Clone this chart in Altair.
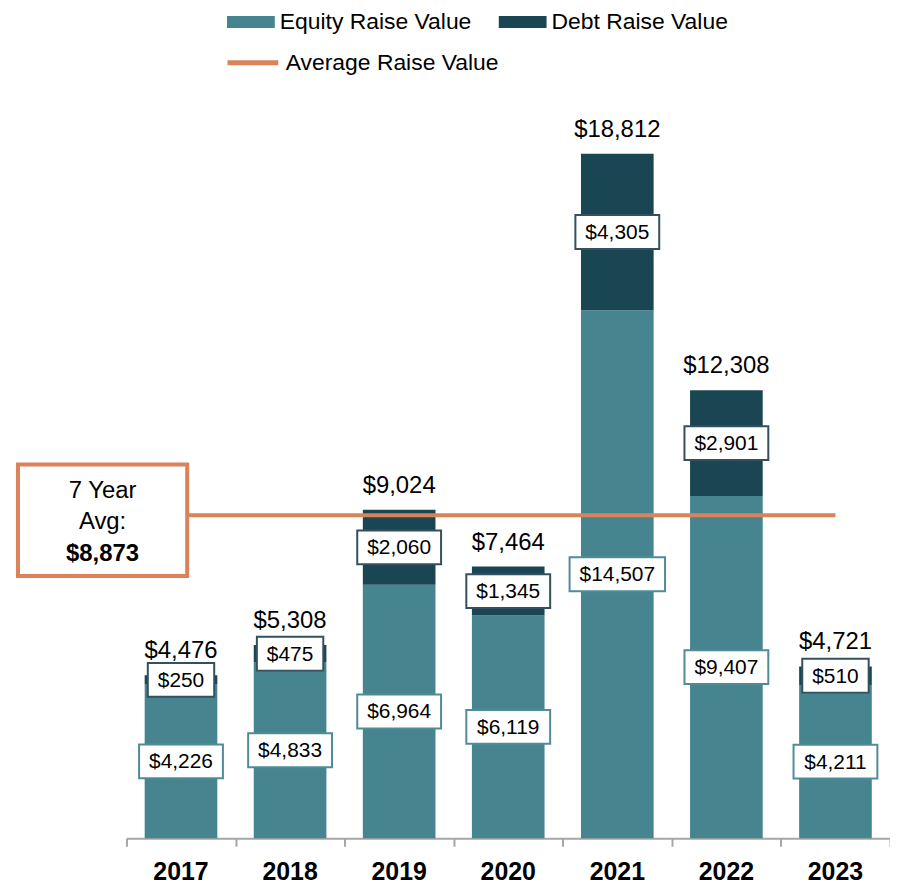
import altair as alt
import pandas as pd

# ---- data ----
years = ["2017", "2018", "2019", "2020", "2021", "2022", "2023"]
equity = [4226, 4833, 6964, 6119, 14507, 9407, 4211]
debt = [250, 475, 2060, 1345, 4305, 2901, 510]
totals = [4476, 5308, 9024, 7464, 18812, 12308, 4721]
avg_value = 8873
avg_lines = ["7 Year", "Avg:"]
series_names = ["Equity Raise Value", "Debt Raise Value"]
avg_name = "Average Raise Value"

# ---- style ----
EQ = "#46848F"
DB = "#1A4654"
OR = "#DA825A"
EQ_BORDER = "#4F8C97"
DB_BORDER = "#34505F"
AXIS = "#A6A6A6"
FONT = "Liberation Sans"
W, H = 767, 740
STEP = W / len(years)
BAR_HALF = 0.333
LABEL_FS = 21
BOX_PAD = 20
BOX_H = 34
YMAX = 20243


def fmt(v):
    return "${:,}".format(v)


def text_w(s, fs):
    return sum(0.278 * fs if c in ",." else 0.556 * fs for c in s)


rows = []
for i, (e, d) in enumerate(zip(equity, debt)):
    rows.append(dict(i=i, series=series_names[0], y0=0, y1=e))
    rows.append(dict(i=i, series=series_names[1], y0=e, y1=e + d))
bars_df = pd.DataFrame(rows)

lab_rows = []
for i, (e, d) in enumerate(zip(equity, debt)):
    for val, mid, border in [(e, e / 2, EQ_BORDER), (d, e + d / 2, DB_BORDER)]:
        t = fmt(val)
        hw = (text_w(t, LABEL_FS) + BOX_PAD) / 2 / STEP
        lab_rows.append(dict(i=i, label=t, mid=mid, xa=i - hw, xb=i + hw, border=border))
lab_df = pd.DataFrame(lab_rows)

tot_df = pd.DataFrame({"i": list(range(len(years))), "total": totals,
                       "label": [fmt(t) for t in totals], "year": years})
avg_df = pd.DataFrame({"v": [avg_value], "name": [avg_name], "label": [fmt(avg_value)]})

xs = alt.Scale(domain=[-0.5, len(years) - 0.5], nice=False, zero=False)
ys = alt.Scale(domain=[0, YMAX], nice=False, zero=True)

bars = alt.Chart(bars_df).transform_calculate(
    x0=f"datum.i - {BAR_HALF}", x1=f"datum.i + {BAR_HALF}"
).mark_bar().encode(
    x=alt.X("x0:Q", scale=xs, title=None,
            axis=alt.Axis(values=[k - 0.5 for k in range(len(years) + 1)], labels=False,
                          grid=False, domainColor=AXIS, domainWidth=2, tickColor=AXIS,
                          tickWidth=2, tickSize=8, title=None)),
    x2="x1:Q",
    y=alt.Y("y0:Q", scale=ys, axis=None),
    y2="y1:Q",
    fill=alt.Fill("series:N", scale=alt.Scale(domain=series_names, range=[EQ, DB]),
                  legend=alt.Legend(orient="none", legendX=101, legendY=-104, columns=2,
                                    symbolType="M-1,-0.25H1V0.25H-1Z", symbolSize=2304,
                                    symbolStrokeWidth=0, labelFont=FONT, labelFontSize=23,
                                    labelColor="black", labelOffset=5, columnPadding=27,
                                    labelLimit=0, padding=0, title=None)),
)

avg_rule = alt.Chart(avg_df).mark_rule(strokeWidth=4).encode(
    x=alt.datum(-0.5),
    x2=alt.datum(len(years) - 1),
    y=alt.Y("v:Q"),
    stroke=alt.Stroke("name:N", scale=alt.Scale(domain=[avg_name], range=[OR]),
                      legend=alt.Legend(orient="none", legendX=99, legendY=-67,
                                        symbolType="stroke", symbolSize=2600,
                                        symbolStrokeWidth=5, labelFont=FONT,
                                        labelFontSize=23, labelColor="black",
                                        labelOffset=5, labelLimit=0, padding=0,
                                        title=None)),
)

lab_box = alt.Chart(lab_df).mark_rect(fill="white", strokeWidth=2,
                                      yOffset=-BOX_H / 2, y2Offset=BOX_H / 2).encode(
    x="xa:Q", x2="xb:Q", y="mid:Q", y2="mid:Q",
    stroke=alt.Stroke("border:N", scale=None),
)
lab_text = alt.Chart(lab_df).mark_text(font=FONT, fontSize=LABEL_FS, color="black",
                                       baseline="middle", dy=1).encode(
    x="i:Q", y="mid:Q", text="label:N"
)

tot_text = alt.Chart(tot_df).mark_text(font=FONT, fontSize=24, color="black",
                                       baseline="alphabetic", dy=-17).encode(
    x="i:Q", y="total:Q", text="label:N"
)
year_text = alt.Chart(tot_df).mark_text(font=FONT, fontSize=25, fontWeight="bold",
                                        color="black", baseline="middle", dy=34).encode(
    x="i:Q", y=alt.datum(0), text="year:N"
)

avg_box = alt.Chart(avg_df).mark_rect(fill="white", stroke=OR, strokeWidth=4,
                                      yOffset=-51, y2Offset=61).encode(
    x=alt.value(-109), x2=alt.value(61), y="v:Q", y2="v:Q"
)
avg_t1 = alt.Chart(avg_df).mark_text(font=FONT, fontSize=24, color="black",
                                     baseline="middle", dy=-24, text=avg_lines[0]).encode(
    x=alt.value(-24), y="v:Q"
)
avg_t2 = alt.Chart(avg_df).mark_text(font=FONT, fontSize=24, color="black",
                                     baseline="middle", dy=7, text=avg_lines[1]).encode(
    x=alt.value(-24), y="v:Q"
)
avg_t3 = alt.Chart(avg_df).mark_text(font=FONT, fontSize=24, fontWeight="bold",
                                     color="black", baseline="middle", dy=39).encode(
    x=alt.value(-24), y="v:Q", text="label:N"
)

chart = alt.layer(
    bars, avg_rule, lab_box, lab_text, tot_text, year_text,
    avg_box, avg_t1, avg_t2, avg_t3
).properties(
    width=W, height=H,
    autosize=alt.AutoSizeParams(type="none"),
    padding={"left": 119, "top": 92, "right": 0, "bottom": 44},
).configure_view(stroke=None)

chart.save("out.html", embed_options={"renderer": "svg", "actions": False})
